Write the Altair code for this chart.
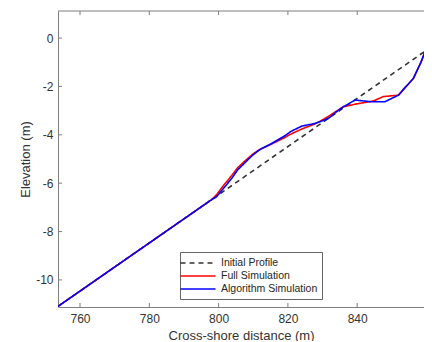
import altair as alt
import pandas as pd

FONT = "Liberation Sans"

init_x = [753.6, 859.5]
init_y = [-11.1, -0.55]

full_x = [753.6, 798.0, 799.4, 801.5, 803.8, 805.5, 807.6, 810.0, 812.0, 815.0,
          818.7, 821.0, 824.0, 827.8, 830.0, 831.7, 834.0, 836.0, 839.9, 844.7,
          847.5, 850.4, 851.9, 853.8, 856.2, 858.4, 859.6, 861.5]
full_y = [-11.1, -6.68, -6.48, -6.08, -5.68, -5.36, -5.08, -4.78, -4.6, -4.4,
          -4.14, -3.96, -3.76, -3.55, -3.38, -3.24, -3.02, -2.84, -2.72, -2.6,
          -2.42, -2.38, -2.36, -2.05, -1.67, -1.0, -0.55, -0.38]

algo_x = [753.6, 798.0, 799.4, 801.5, 803.8, 805.5, 807.6, 810.0, 812.0, 815.0,
          818.7, 821.0, 824.0, 827.8, 830.0, 831.7, 834.0, 836.0, 839.4, 843.7,
          848.0, 851.9, 853.8, 856.2, 858.4, 859.6, 861.5]
algo_y = [-11.1, -6.68, -6.56, -6.2, -5.8, -5.45, -5.15, -4.82, -4.6, -4.38,
          -4.08, -3.85, -3.64, -3.53, -3.42, -3.32, -3.05, -2.84, -2.56, -2.63,
          -2.63, -2.36, -2.05, -1.67, -1.0, -0.55, -0.38]

x_ticks = [760, 780, 800, 820, 840, 860]
y_ticks = [-10, -8, -6, -4, -2, 0]

series = ["Initial Profile", "Full Simulation", "Algorithm Simulation"]
colors = ["#333333", "#ff0000", "#0000ff"]
dashes = [[5, 4], [1, 0], [1, 0]]

rows = []
for name, xs, ys in zip(series, [init_x, full_x, algo_x], [init_y, full_y, algo_y]):
    for i, (x, y) in enumerate(zip(xs, ys)):
        rows.append({"series": name, "x": x, "y": y, "order": i})
df = pd.DataFrame(rows)

W, H = 366, 296
X0 = 753.65
X1 = X0 + W / 3.465
Y0, Y1 = -11.12, 1.12
xscale = alt.Scale(domain=[X0, X1], nice=False, zero=False)
yscale = alt.Scale(domain=[Y0, Y1], nice=False, zero=False)

AX = "#7f7f7f"
TXT = "#333333"

xaxis = alt.Axis(
    values=x_ticks, ticks=False, grid=False, domainColor=AX,
    labelExpr="'' + datum.value",
    labelFont=FONT, labelFontSize=12, labelColor=TXT, labelPadding=6,
    title="Cross-shore distance (m)", titleFont=FONT, titleFontSize=13,
    titleFontWeight="normal", titleColor=TXT, titlePadding=5)
yaxis = alt.Axis(
    values=y_ticks, ticks=False, grid=False, domainColor=AX,
    labelExpr="'' + datum.value",
    labelFont=FONT, labelFontSize=12, labelColor=TXT, labelPadding=5,
    title="Elevation (m)", titleFont=FONT, titleFontSize=13,
    titleFontWeight="normal", titleColor=TXT, titlePadding=3)

leg = alt.Legend(
    title=None, orient="none", legendX=122, legendY=241,
    symbolType="M-3,0H3", symbolSize=136, symbolStrokeWidth=1.5,
    symbolOffset=7, labelOffset=16, labelFontSize=10.5, labelFont=FONT,
    labelColor="#262626", fillColor="white", strokeColor="#666666",
    padding=4, rowPadding=0,
)

lines = alt.Chart(df).mark_line(strokeWidth=1.6, clip=True).encode(
    x=alt.X("x:Q", scale=xscale, axis=xaxis),
    y=alt.Y("y:Q", scale=yscale, axis=yaxis),
    color=alt.Color("series:N", scale=alt.Scale(domain=series, range=colors), legend=leg),
    strokeDash=alt.StrokeDash("series:N", scale=alt.Scale(domain=series, range=dashes), legend=leg),
    order="order:Q",
)

xt = pd.DataFrame({"t": x_ticks})
yt = pd.DataFrame({"t": y_ticks})

bot_ticks = alt.Chart(xt).mark_rule(color=AX, strokeWidth=1).encode(
    x=alt.X("t:Q", scale=xscale, axis=xaxis), y=alt.value(H), y2=alt.value(H - 4))
top_ticks = alt.Chart(xt).mark_rule(color=AX, strokeWidth=1).encode(
    x=alt.X("t:Q", scale=xscale, axis=xaxis), y=alt.value(0), y2=alt.value(4))
left_ticks = alt.Chart(yt).mark_rule(color=AX, strokeWidth=1).encode(
    y=alt.Y("t:Q", scale=yscale, axis=yaxis), x=alt.value(0), x2=alt.value(4))
top_frame = alt.Chart(pd.DataFrame({"v": [Y1]})).mark_rule(color=AX, strokeWidth=1).encode(
    y=alt.Y("v:Q", scale=yscale, axis=yaxis), x=alt.value(0), x2=alt.value(W))

chart = alt.layer(lines, top_frame, bot_ticks, top_ticks, left_ticks).properties(
    width=W, height=H,
    autosize=alt.AutoSizeParams(type="none"),
    padding={"left": 50, "top": 3, "right": 0, "bottom": 34},
    background="white",
).configure_view(stroke=None)

chart.save("out.html", embed_options={"renderer": "svg", "actions": False})
